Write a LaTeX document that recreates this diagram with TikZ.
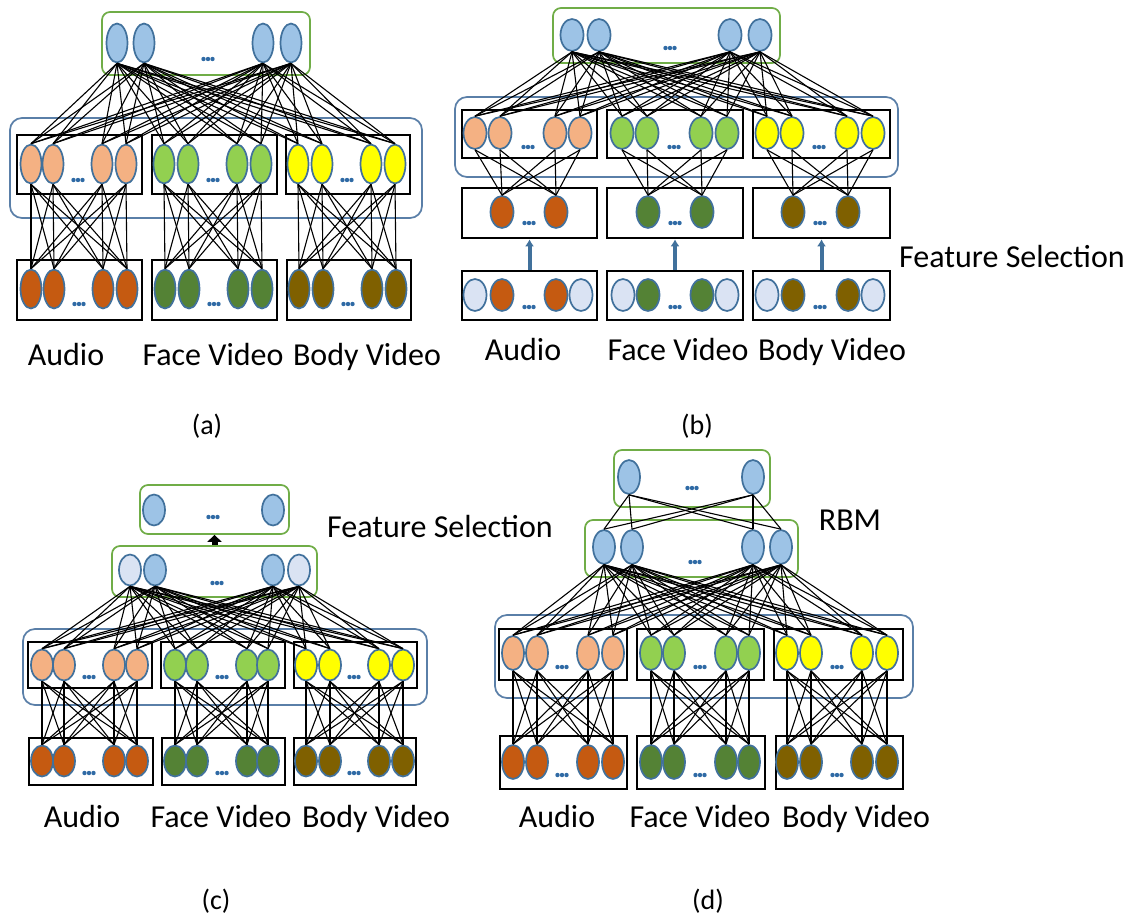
\documentclass[tikz,border=0pt]{standalone}
\usepackage{fontspec}
\setmainfont{Carlito}
\usetikzlibrary{shapes.geometric,arrows.meta}
\definecolor{tb}{HTML}{9DC3E6}
\definecolor{lb}{HTML}{DAE3F3}
\definecolor{pe}{HTML}{F4B183}
\definecolor{lg}{HTML}{92D050}
\definecolor{ye}{HTML}{FFFF00}
\definecolor{og}{HTML}{C55A11}
\definecolor{dg}{HTML}{548235}
\definecolor{br}{HTML}{7F6000}
\definecolor{eb}{HTML}{41719C}
\definecolor{gfr}{HTML}{70AD47}
\definecolor{bfr}{HTML}{5A7FA8}
\definecolor{dotc}{HTML}{2F6AA5}
\tikzset{
 neu/.style={ellipse, draw=eb, line width=1.7pt, inner sep=0pt, minimum width=21pt, minimum height=38pt},
 blk/.style={rectangle, draw=black, line width=2.6pt, inner sep=0pt},
 gbox/.style={rectangle, rounded corners=8pt, draw=gfr, line width=1.7pt, inner sep=0pt},
 bbox/.style={rectangle, rounded corners=12pt, draw=bfr, line width=1.7pt, inner sep=0pt},
 conn/.style={draw=black, line width=1.1pt},
 lab/.style={font=\fontsize{32}{38}\selectfont, inner sep=0pt, anchor=base},
 figcap/.style={font=\fontsize{28}{34}\selectfont, inner sep=0pt, anchor=base},
 fsarrow/.style={-{Latex[length=7pt,width=9pt]}, draw=eb, line width=4pt},
 blkarrow/.style={-{Triangle[length=7pt,width=14pt]}, draw=black, line width=6pt},
}
\newcommand\bx[6]{\pgfmathsetmacro\bw{#4-#2}\pgfmathsetmacro\bh{#5-#3}%
  \node[#6, minimum width=\bw pt, minimum height=\bh pt] (#1) at ({(#2+#4)/2},{(#3+#5)/2}) {};}
\newcommand\nrow[4]{\foreach \xx [count=\nn] in {#2} {\node[neu, fill=#4] (#1\nn) at (\xx,#3) {};}}
\newcommand\nrowc[3]{\foreach \xx/\cc [count=\nn] in {#2} {\node[neu, fill=\cc] (#1\nn) at (\xx,#3) {};}}
\newcommand\ddd[2]{\foreach \dd in {-4.5,0,4.5} {\fill[dotc] ({#1+\dd},#2) circle[radius=2.2pt];}}
\newcommand\full[4]{\foreach \ja in {#2} {\foreach \jb in {#4} {\draw[conn] (#1\ja.south) -- (#3\jb.north);}}}
\begin{document}
\begin{tikzpicture}[x=1pt,y=-1pt]
\fill[white] (0,0) rectangle (1145,918);
\useasboundingbox (0,0) rectangle (1145,918);
% ================= (a)
\begin{scope}[neu/.append style={minimum width=21pt, minimum height=39pt}]
\bx{aG}{102}{12}{310}{75}{gbox}
\bx{aBl}{10}{118}{422}{218}{bbox}
\bx{aMA}{17}{135}{142}{194}{blk}
\bx{aMF}{152}{135}{277}{194}{blk}
\bx{aMB}{286}{135}{410}{194}{blk}
\bx{aIA}{17}{260}{142}{320}{blk}
\bx{aIF}{152}{260}{277}{320}{blk}
\bx{aIB}{287}{260}{411}{320}{blk}
\nrow{aT}{117,144,263,291}{43}{tb}
\nrow{aMa}{31,53,102,126}{164}{pe}
\nrow{aMf}{164,188,237,261}{164}{lg}
\nrow{aMb}{298,322,371,395}{164}{ye}
\nrow{aBa}{31,54,103,127}{289}{og}
\nrow{aBf}{165,189,238,262}{289}{dg}
\nrow{aBb}{299,323,372,396}{289}{br}
\ddd{208}{59}
\ddd{78}{180}\ddd{213}{180}\ddd{347}{180}
\ddd{79}{304}\ddd{214}{304}\ddd{348}{304}
\full{aT}{1,...,4}{aMa}{1,...,4}
\full{aT}{1,...,4}{aMf}{1,...,4}
\full{aT}{1,...,4}{aMb}{1,...,4}
\full{aMa}{1,...,4}{aBa}{1,...,4}
\full{aMf}{1,...,4}{aBf}{1,...,4}
\full{aMb}{1,...,4}{aBb}{1,...,4}
\node[lab] (aL1) at (66,365) {Audio};
\node[lab] (aL2) at (213,365) {Face Video};
\node[lab] (aL3) at (367,365) {Body Video};
\node[figcap] (aC) at (207,434) {(a)};
\end{scope}
% ================= (b)
\begin{scope}[neu/.append style={minimum width=23pt, minimum height=32pt}]
\bx{bG}{553}{8}{780}{63}{gbox}
\bx{bBl}{455}{97}{898}{177}{bbox}
\bx{bMA}{462}{110}{597}{158}{blk}
\bx{bMF}{607}{110}{743}{158}{blk}
\bx{bMB}{753}{110}{890}{158}{blk}
\bx{bSA}{462}{188}{597}{238}{blk}
\bx{bSF}{607}{188}{743}{238}{blk}
\bx{bSB}{753}{188}{890}{238}{blk}
\bx{bIA}{462}{271}{597}{320}{blk}
\bx{bIF}{607}{271}{743}{320}{blk}
\bx{bIB}{753}{271}{890}{320}{blk}
\nrow{bT}{572,599,730,760}{35}{tb}
\nrow{bMa}{475,500,555,580}{133}{pe}
\nrow{bMf}{622,647,701,727}{133}{lg}
\nrow{bMb}{767,792,847,873}{133}{ye}
\nrow{bSa}{502,556}{212}{og}
\nrow{bSf}{648,702}{212}{dg}
\nrow{bSb}{793,848}{212}{br}
\nrowc{bIa}{475/lb,502/og,556/og,581/lb}{295}
\nrowc{bIf}{623/lb,648/dg,702/dg,727/lb}{295}
\nrowc{bIb}{767/lb,793/br,848/br,873/lb}{295}
\ddd{670}{48}
\ddd{528}{147}\ddd{674}{147}\ddd{819}{147}
\ddd{529}{223}\ddd{675}{223}\ddd{820}{223}
\ddd{529}{307}\ddd{675}{307}\ddd{820}{307}
\full{bT}{1,...,4}{bMa}{1,...,4}
\full{bT}{1,...,4}{bMf}{1,...,4}
\full{bT}{1,...,4}{bMb}{1,...,4}
\full{bMa}{1,...,4}{bSa}{1,2}
\full{bMf}{1,...,4}{bSf}{1,2}
\full{bMb}{1,...,4}{bSb}{1,2}
\draw[fsarrow] (bIA.north) -- (bSA.south);
\draw[fsarrow] (bIF.north) -- (bSF.south);
\draw[fsarrow] (bIB.north) -- (bSB.south);
\node[lab] (bL1) at (523,360) {Audio};
\node[lab] (bL2) at (678,360) {Face Video};
\node[lab] (bL3) at (832,360) {Body Video};
\node[lab, anchor=base west] (bFS) at (899,267) {Feature Selection};
\node[figcap] (bC) at (697,434) {(b)};
\end{scope}
% ================= (c)
\begin{scope}[neu/.append style={minimum width=22pt, minimum height=31pt}]
\bx{cG1}{140}{485}{289}{534}{gbox}
\bx{cG2}{112}{546}{317}{597}{gbox}
\bx{cBl}{23}{629}{427}{705}{bbox}
\bx{cMA}{28}{642}{152}{688}{blk}
\bx{cMF}{161}{642}{285}{688}{blk}
\bx{cMB}{294}{642}{417}{688}{blk}
\bx{cIA}{29}{738}{153}{785}{blk}
\bx{cIF}{162}{738}{285}{785}{blk}
\bx{cIB}{294}{738}{416}{785}{blk}
\nrow{cT}{154,273}{510}{tb}
\nrowc{cS}{130/lb,155/tb,273/tb,299/lb}{570}
\nrow{cMa}{42,64,114,137}{665}{pe}
\nrow{cMf}{175,197,247,268}{665}{lg}
\nrow{cMb}{306,330,379,403}{665}{ye}
\nrow{cBa}{42,64,114,137}{761}{og}
\nrow{cBf}{175,197,247,268}{761}{dg}
\nrow{cBb}{306,330,379,403}{761}{br}
\ddd{213}{517}\ddd{217}{583}
\ddd{89}{677}\ddd{222}{677}\ddd{354}{677}
\ddd{89}{773}\ddd{222}{773}\ddd{354}{773}
\draw[blkarrow] (cG2.north) -- (cG1.south);
\full{cS}{1,...,4}{cMa}{1,...,4}
\full{cS}{1,...,4}{cMf}{1,...,4}
\full{cS}{1,...,4}{cMb}{1,...,4}
\full{cMa}{1,...,4}{cBa}{1,...,4}
\full{cMf}{1,...,4}{cBf}{1,...,4}
\full{cMb}{1,...,4}{cBb}{1,...,4}
\node[lab] (cL1) at (82,827) {Audio};
\node[lab] (cL2) at (221,827) {Face Video};
\node[lab] (cL3) at (376,827) {Body Video};
\node[lab, anchor=base west] (cFS) at (327,537) {Feature Selection};
\node[figcap] (cC) at (216,909) {(c)};
\end{scope}
% ================= (d)
\begin{scope}[neu/.append style={minimum width=22pt, minimum height=34pt}]
\bx{dG1}{614}{450}{770}{507}{gbox}
\bx{dG2}{585}{520}{798}{577}{gbox}
\bx{dBl}{495}{615}{913}{698}{bbox}
\bx{dMA}{499}{629}{627}{680}{blk}
\bx{dMF}{637}{629}{764}{680}{blk}
\bx{dMB}{774}{629}{903}{680}{blk}
\bx{dIA}{500}{736}{627}{789}{blk}
\bx{dIF}{637}{736}{765}{789}{blk}
\bx{dIB}{776}{736}{903}{789}{blk}
\nrow{dT}{629,753}{477}{tb}
\nrow{dS}{604,632,753,781}{547}{tb}
\nrow{dMa}{513,537,588,613}{653}{pe}
\nrow{dMf}{651,674,726,749}{653}{lg}
\nrow{dMb}{787,811,862,887}{653}{ye}
\nrow{dBa}{513,537,588,613}{762}{og}
\nrow{dBf}{651,674,726,749}{762}{dg}
\nrow{dBb}{787,811,862,887}{762}{br}
\ddd{692}{488}\ddd{695}{562}
\ddd{562}{667}\ddd{700}{667}\ddd{837}{667}
\ddd{562}{775}\ddd{700}{775}\ddd{837}{775}
\full{dT}{1,2}{dS}{1,...,4}
\full{dS}{1,...,4}{dMa}{1,...,4}
\full{dS}{1,...,4}{dMf}{1,...,4}
\full{dS}{1,...,4}{dMb}{1,...,4}
\full{dMa}{1,...,4}{dBa}{1,...,4}
\full{dMf}{1,...,4}{dBf}{1,...,4}
\full{dMb}{1,...,4}{dBb}{1,...,4}
\node[lab] (dL1) at (557,827) {Audio};
\node[lab] (dL2) at (700,827) {Face Video};
\node[lab] (dL3) at (856,827) {Body Video};
\node[lab] (dR) at (850,530) {RBM};
\node[figcap] (dC) at (708,909) {(d)};
\end{scope}
\end{tikzpicture}
\end{document}
